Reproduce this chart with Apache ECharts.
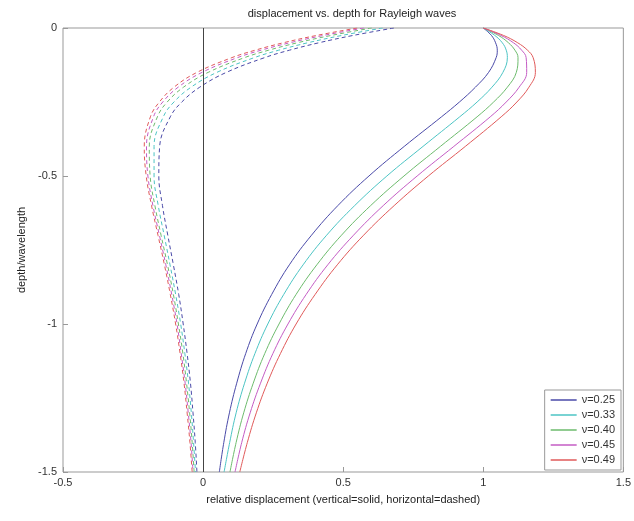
<!DOCTYPE html>
<html>
<head>
<meta charset="utf-8">
<script src="https://cdn.jsdelivr.net/npm/echarts@6/dist/echarts.min.js"></script>
<style>
html,body{margin:0;padding:0;background:#fff;}
#chart{width:634px;height:521px;}
</style>
</head>
<body>
<div id="chart"></div>
<script>
// depth / wavelength (negative = below surface)
const depth = [0, -0.025, -0.05, -0.075, -0.1, -0.15, -0.2, -0.25, -0.3, -0.4, -0.5, -0.6, -0.7, -0.8, -0.9, -1.0, -1.1, -1.2, -1.3, -1.4, -1.5];

// vertical displacement (solid)
const vert025 = [1, 1.029, 1.044, 1.050, 1.046, 1.019, 0.972, 0.915, 0.851, 0.718, 0.592, 0.481, 0.387, 0.308, 0.245, 0.193, 0.152, 0.120, 0.094, 0.074, 0.058];
const vert033 = [1, 1.041, 1.068, 1.082, 1.086, 1.070, 1.031, 0.978, 0.916, 0.785, 0.656, 0.541, 0.441, 0.357, 0.288, 0.231, 0.185, 0.148, 0.118, 0.095, 0.075];
const vert040 = [1, 1.054, 1.090, 1.113, 1.124, 1.118, 1.086, 1.037, 0.978, 0.847, 0.717, 0.598, 0.494, 0.406, 0.332, 0.271, 0.220, 0.179, 0.145, 0.118, 0.096];
const vert045 = [1, 1.063, 1.108, 1.137, 1.153, 1.155, 1.128, 1.082, 1.025, 0.895, 0.764, 0.643, 0.537, 0.445, 0.368, 0.303, 0.249, 0.205, 0.168, 0.138, 0.114];
const vert049 = [1, 1.072, 1.123, 1.158, 1.178, 1.186, 1.163, 1.120, 1.064, 0.936, 0.804, 0.682, 0.573, 0.479, 0.400, 0.332, 0.276, 0.229, 0.190, 0.158, 0.131];

// horizontal displacement (dashed)
const horz025 = [0.681, 0.536, 0.413, 0.308, 0.220, 0.083, -0.012, -0.076, -0.117, -0.155, -0.158, -0.145, -0.126, -0.106, -0.087, -0.071, -0.057, -0.045, -0.036, -0.028, -0.022];
const horz033 = [0.641, 0.496, 0.373, 0.270, 0.183, 0.049, -0.043, -0.104, -0.142, -0.175, -0.175, -0.160, -0.139, -0.118, -0.098, -0.080, -0.065, -0.052, -0.042, -0.034, -0.027];
const horz040 = [0.602, 0.458, 0.336, 0.234, 0.148, 0.018, -0.070, -0.128, -0.163, -0.192, -0.189, -0.172, -0.150, -0.127, -0.106, -0.088, -0.072, -0.059, -0.048, -0.039, -0.032];
const horz045 = [0.574, 0.430, 0.309, 0.207, 0.123, -0.004, -0.089, -0.144, -0.177, -0.202, -0.197, -0.179, -0.156, -0.133, -0.112, -0.093, -0.078, -0.064, -0.053, -0.043, -0.036];
const horz049 = [0.550, 0.406, 0.286, 0.186, 0.103, -0.022, -0.104, -0.156, -0.188, -0.210, -0.203, -0.184, -0.161, -0.138, -0.117, -0.098, -0.082, -0.068, -0.057, -0.047, -0.039];

const names = ['ν=0.25', 'ν=0.33', 'ν=0.40', 'ν=0.45', 'ν=0.49'];
const vertSets = [vert025, vert033, vert040, vert045, vert049];
const horzSets = [horz025, horz033, horz040, horz045, horz049];
const colors = ['#4a4aa8', '#4cc4c4', '#6dbb6d', '#c45cc4', '#e05a5a'];

const xTicks = [-0.5, 0, 0.5, 1, 1.5];
const yTicks = [0, -0.5, -1, -1.5];

const FONT = 'Liberation Sans, Arial, sans-serif';
const series = [];
vertSets.forEach((v, k) => {
  series.push({
    name: names[k], type: 'line', symbol: 'none', showSymbol: false, smooth: 0.4,
    lineStyle: {color: colors[k], width: 1, type: 'solid'},
    itemStyle: {color: colors[k]},
    data: depth.map((d, i) => [v[i], d]),
    markLine: k === 0 ? {
      silent: true, symbol: 'none', label: {show: false},
      lineStyle: {color: '#444', width: 1, type: 'solid'},
      data: [{xAxis: 0}]
    } : undefined,
    z: 3
  });
});
horzSets.forEach((h, k) => {
  series.push({
    name: names[k] + ' h', type: 'line', symbol: 'none', showSymbol: false, smooth: 0.4,
    lineStyle: {color: colors[k], width: 1, type: [4, 3]},
    itemStyle: {color: colors[k]},
    data: depth.map((d, i) => [h[i], d]),
    z: 3
  });
});

const chart = echarts.init(document.getElementById('chart'), null, {renderer: 'canvas'});
chart.setOption({
  animation: false,
  backgroundColor: '#fff',
  title: {
    text: 'displacement vs. depth for Rayleigh waves',
    left: 347, top: 3, textAlign: 'center',
    textStyle: {fontFamily: FONT, fontSize: 11, fontWeight: 'normal', color: '#222'}
  },
  grid: {left: 63, right: 3, top: 28, bottom: 49, show: true, borderColor: '#999', borderWidth: 1, containLabel: false},
  legend: {
    data: names, orient: 'vertical', right: 13, bottom: 51,
    icon: 'rect',
    backgroundColor: '#fff', borderColor: '#999', borderWidth: 1,
    padding: [4, 6, 4, 6], itemGap: 3, itemWidth: 26, itemHeight: 1.5,
    textStyle: {fontFamily: FONT, fontSize: 11, color: '#333', lineHeight: 12}
  },
  xAxis: {
    type: 'value', min: xTicks[0], max: xTicks[xTicks.length - 1], interval: 0.5,
    name: 'relative displacement (vertical=solid, horizontal=dashed)',
    nameLocation: 'middle', nameGap: 22,
    nameTextStyle: {fontFamily: FONT, fontSize: 11, color: '#222'},
    axisLine: {show: false, onZero: false},
    axisTick: {show: true, inside: true, length: 5, lineStyle: {color: '#999'}},
    axisLabel: {fontFamily: FONT, fontSize: 11, color: '#333', margin: 5},
    splitLine: {show: false}
  },
  yAxis: {
    type: 'value', min: yTicks[yTicks.length - 1], max: yTicks[0], interval: 0.5,
    name: 'depth/wavelength', nameLocation: 'middle', nameGap: 36, nameRotate: 90,
    nameTextStyle: {fontFamily: FONT, fontSize: 11, color: '#222'},
    axisLine: {show: false, onZero: false},
    axisTick: {show: true, inside: true, length: 5, lineStyle: {color: '#999'}},
    axisLabel: {fontFamily: FONT, fontSize: 11, color: '#333', margin: 6},
    splitLine: {show: false}
  },
  series: series
});
</script>
</body>
</html>
